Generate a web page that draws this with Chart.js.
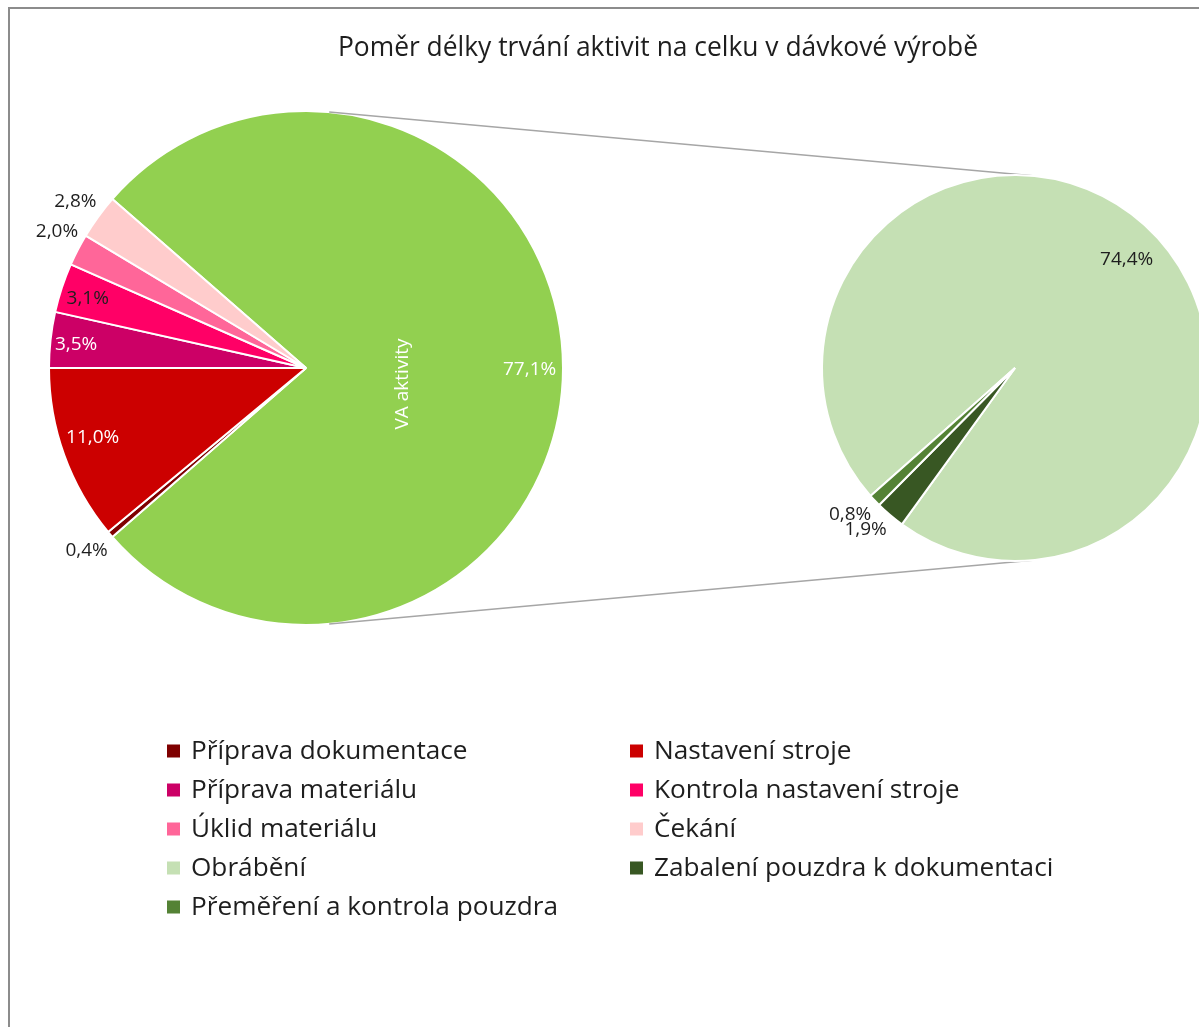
<!DOCTYPE html>
<html><head><meta charset="utf-8">
<script src="https://cdn.jsdelivr.net/npm/chart.js@4.4.1/dist/chart.umd.min.js"></script>
<style>
html,body{margin:0;padding:0;background:#fff;overflow:hidden;width:1199px;height:1027px;}
#frame{position:absolute;left:8px;top:7px;width:1400px;height:1100px;border:2px solid #8c8c8c;box-sizing:border-box;}
canvas{position:absolute;left:0;top:0;}
</style></head><body>
<div id="frame"></div>
<canvas id="a" width="1199" height="1027"></canvas>
<canvas id="b" width="1240" height="1027"></canvas>
<script>
// ---- data ----
const chartTitle = 'Poměr délky trvání aktivit na celku v dávkové výrobě';
const leftLabels = ['VA aktivity', 'Příprava dokumentace', 'Nastavení stroje', 'Příprava materiálu', 'Kontrola nastavení stroje', 'Úklid materiálu', 'Čekání'];
const leftValues = [77.1, 0.4, 11.0, 3.5, 3.1, 2.0, 2.8];
const rightLabels = ['Obrábění', 'Zabalení pouzdra k dokumentaci', 'Přeměření a kontrola pouzdra'];
const rightValues = [74.4, 1.9, 0.8];

// ---- styles ----
const leftColors = ['#92d050', '#7f0000', '#cc0000', '#cc0066', '#ff0066', '#ff6699', '#ffcccc'];
const rightColors = ['#c5e0b4', '#385723', '#548235'];
const FONT = '"Open Sans", "Noto Sans", sans-serif';
const DARK = '#1e1e1e';

const fmt = v => v.toFixed(1).replace('.', ',') + '%';
const sum = a => a.reduce((s, v) => s + v, 0);

const labelPlugin = {
  id: 'sliceLabels',
  afterDatasetsDraw(chart, args, opts) {
    const ctx = chart.ctx;
    const meta = chart.getDatasetMeta(0);
    const ds = chart.data.datasets[0];
    ctx.save();
    ctx.textAlign = 'center';
    ctx.textBaseline = 'middle';
    meta.data.forEach((arc, i) => {
      const c = opts.items[i];
      const mid = (arc.startAngle + arc.endAngle) / 2;
      const r = arc.outerRadius * c.r;
      const x = arc.x + Math.cos(mid) * r + (c.dx || 0);
      const y = arc.y + Math.sin(mid) * r + (c.dy || 0);
      ctx.font = opts.font;
      ctx.fillStyle = c.color;
      ctx.fillText(fmt(ds.data[i]), x, y);
      if (c.name) {
        ctx.save();
        ctx.translate(arc.x + c.name.dx, arc.y + c.name.dy);
        ctx.rotate(-Math.PI / 2);
        ctx.fillText(chart.data.labels[i], 0, 0);
        ctx.restore();
      }
    });
    ctx.restore();
  }
};

const titlePlugin = {
  id: 'frameTitle',
  afterDraw(chart, args, opts) {
    const ctx = chart.ctx;
    ctx.save();
    ctx.font = opts.font;
    ctx.fillStyle = DARK;
    ctx.textAlign = 'center';
    ctx.textBaseline = 'middle';
    ctx.fillText(opts.text, opts.x, opts.y);
    ctx.restore();
  }
};

const legendPlugin = {
  id: 'twoColLegend',
  afterDraw(chart, args, opts) {
    const ctx = chart.ctx;
    const items = [];
    leftLabels.forEach((l, i) => { if (i > 0) items.push([l, leftColors[i]]); });
    rightLabels.forEach((l, i) => items.push([l, rightColors[i]]));
    ctx.save();
    ctx.font = opts.font;
    ctx.textBaseline = 'middle';
    ctx.textAlign = 'left';
    items.forEach(([text, color], i) => {
      const col = i % 2, row = Math.floor(i / 2);
      const x = opts.cols[col], y = opts.top + row * opts.pitch;
      ctx.fillStyle = color;
      ctx.fillRect(x, y - opts.box / 2, opts.box, opts.box);
      ctx.fillStyle = DARK;
      ctx.fillText(text, x + opts.textGap, y + 1);
    });
    ctx.restore();
  }
};

const chartA = new Chart(document.getElementById('a'), {
  type: 'pie',
  data: {
    labels: leftLabels,
    datasets: [{ data: leftValues, backgroundColor: leftColors, borderColor: '#ffffff', borderWidth: 2 }]
  },
  options: {
    responsive: false, animation: false, events: [],
    rotation: 90 - 180 * leftValues[0] / sum(leftValues),
    radius: 257,
    layout: { padding: { left: 48, right: 1199 - 564, top: 110, bottom: 1027 - 626 } },
    plugins: {
      legend: { display: false }, tooltip: { enabled: false },
      frameTitle: { text: chartTitle, x: 658, y: 48, font: '26.4px ' + FONT },
      twoColLegend: { cols: [167, 630], top: 751, pitch: 39, box: 13, textGap: 24, font: '26.2px ' + FONT },
      sliceLabels: {
        font: '19px ' + FONT,
        items: [
          { r: 0.87, dx: 0, dy: 2, color: '#ffffff', name: { dx: 97, dy: 16 } },
          { r: 1.11, dx: -2, dy: -2, color: DARK },
          { r: 0.87, dx: -3, dy: -6, color: '#ffffff' },
          { r: 0.9, dx: 0, dy: 2, color: '#ffffff' },
          { r: 0.89, dx: -1, dy: 2, color: DARK },
          { r: 1.1, dx: 2, dy: -6, color: DARK },
          { r: 1.11, dx: 0, dy: 1, color: DARK }
        ]
      }
    }
  },
  plugins: [labelPlugin, titlePlugin, legendPlugin]
});

const connectorPlugin = {
  id: 'connectors',
  beforeDatasetsDraw(chart) {
    const a = chartA.getDatasetMeta(0).data[0];
    const b = chart.getDatasetMeta(0).data[0];
    const x1 = a.x, y1 = a.y, r1 = a.outerRadius;
    const x2 = b.x, y2 = b.y, r2 = b.outerRadius;
    const d = Math.hypot(x2 - x1, y2 - y1);
    const th = Math.atan2(y2 - y1, x2 - x1);
    const phi = Math.acos((r1 - r2) / d);
    const ctx = chart.ctx;
    ctx.save();
    ctx.strokeStyle = '#a6a6a6';
    ctx.lineWidth = 1.5;
    [-1, 1].forEach(s => {
      const n = th + s * phi;
      ctx.beginPath();
      ctx.moveTo(x1 + r1 * Math.cos(n), y1 + r1 * Math.sin(n));
      ctx.lineTo(x2 + r2 * Math.cos(n), y2 + r2 * Math.sin(n));
      ctx.stroke();
    });
    ctx.restore();
  }
};

const chartB = new Chart(document.getElementById('b'), {
  type: 'pie',
  data: {
    labels: rightLabels,
    datasets: [{ data: rightValues, backgroundColor: rightColors, borderColor: '#ffffff', borderWidth: 2 }]
  },
  options: {
    responsive: false, animation: false, events: [],
    rotation: 228.5,
    radius: 193,
    layout: { padding: { left: 821, right: 1240 - 1209, top: 174, bottom: 1027 - 562 } },
    plugins: {
      legend: { display: false }, tooltip: { enabled: false },
      sliceLabels: {
        font: '19px ' + FONT,
        items: [
          { r: 0.8, dx: 8, dy: 6, color: DARK },
          { r: 1.14, dx: -7, dy: -6, color: DARK },
          { r: 1.14, dx: -5, dy: -4, color: DARK }
        ]
      }
    }
  },
  plugins: [connectorPlugin, labelPlugin]
});
</script>
</body></html>
